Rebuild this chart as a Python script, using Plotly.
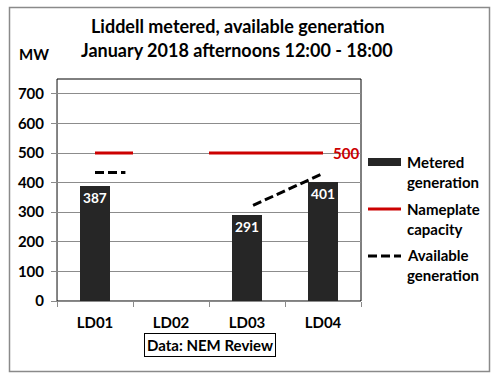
import plotly.graph_objects as go

# ---- data ----
units = ["LD01", "LD02", "LD03", "LD04"]
metered = [387, None, 291, 401]
nameplate_x = [0, 0.5, None, 1.5, 3.0]
nameplate_y = [500, 500, None, 500, 500]
available_x = [0, 0.4, None, 2.08, 3.0]
available_y = [434, 434, None, 323, 431]
y_ticks = [0, 100, 200, 300, 400, 500, 600, 700]

FONT = "Lato"
W, H = 496, 379
L, R, T, B = 57, 361, 79, 301  # plot area in px


def px(x):
    return (x - L) / (R - L)


def py(y):
    return (B - y) / (B - T)


fig = go.Figure()
fig.add_trace(go.Bar(
    x=list(range(len(units))), y=metered, width=0.39,
    marker=dict(color="#262626", line=dict(width=0)),
    text=[str(v) if v is not None else "" for v in metered],
    textposition="inside", insidetextanchor="end", textangle=0,
    textfont=dict(color="white", size=15, family=FONT, weight="bold"),
    showlegend=False, cliponaxis=False,
))
fig.add_trace(go.Scatter(
    x=nameplate_x, y=nameplate_y, mode="lines",
    line=dict(color="#cc0000", width=3), connectgaps=False, showlegend=False,
))
fig.add_trace(go.Scatter(
    x=available_x, y=available_y, mode="lines",
    line=dict(color="black", width=3, dash="9px,4px"), connectgaps=False, showlegend=False,
))

shapes = [
    # plot area box
    dict(type="rect", xref="paper", yref="paper", x0=0, x1=1, y0=0, y1=1,
         line=dict(color="black", width=1), layer="below"),
    # outer border
    dict(type="rect", xref="paper", yref="paper", x0=px(9.5), x1=px(489.5), y0=py(7.5), y1=py(371.5),
         line=dict(color="#8a8a8a", width=1.5)),
    # legend symbols
    dict(type="rect", xref="paper", yref="paper", x0=px(368), x1=px(401), y0=py(158), y1=py(166),
         line=dict(width=0), fillcolor="#262626"),
    dict(type="line", xref="paper", yref="paper", x0=px(368), x1=px(401), y0=py(209), y1=py(209),
         line=dict(color="#cc0000", width=3)),
    dict(type="line", xref="paper", yref="paper", x0=px(368), x1=px(401), y0=py(256), y1=py(256),
         line=dict(color="black", width=3, dash="9px,4px")),
]

ann = []


def txt(text, x, y, size=15, color="black", xanchor="left", **kw):
    ann.append(dict(text=text, x=px(x), y=py(y), xref="paper", yref="paper",
                    xanchor=xanchor, yanchor="middle", showarrow=False,
                    font=dict(family=FONT, size=size, color=color, weight="bold"), **kw))


txt("Liddell metered, available generation", 238, 26, size=18, xanchor="center")
txt("January 2018 afternoons 12:00 - 18:00", 237, 50, size=18, xanchor="center")
txt("MW", 34, 54, size=15, xanchor="center")
txt("Metered", 405, 162)
txt("generation", 405, 182)
txt("Nameplate", 405, 209)
txt("capacity", 405, 229)
txt("Available", 405, 255)
txt("generation", 405, 275)
txt("Data: NEM Review", 210, 345, xanchor="center",
    bordercolor="black", borderwidth=1, borderpad=2)
# label at end of nameplate line
ann.append(dict(text="500", x=nameplate_x[-1], y=nameplate_y[-1], xref="x", yref="y",
                xanchor="left", yanchor="middle", xshift=8, showarrow=False,
                font=dict(family=FONT, size=15, color="#cc0000", weight="bold")))

fig.update_layout(
    width=W, height=H,
    margin=dict(l=L, r=W - R, t=T, b=H - B),
    paper_bgcolor="white", plot_bgcolor="white",
    shapes=shapes, annotations=ann,
    xaxis=dict(range=[-0.5, 3.5], tickvals=list(range(len(units))), ticktext=units,
               showgrid=False, zeroline=False, showline=True, linecolor="#8a8a8a", linewidth=1,
               ticks="", tickfont=dict(family=FONT, size=15, color="black", weight="bold"),
               ticklabelstandoff=8,
               minor=dict(ticks="outside", tick0=-0.5, dtick=1, ticklen=5, tickcolor="#8a8a8a",
                          showgrid=False),
               fixedrange=True),
    yaxis=dict(range=[0, 750], tickvals=y_ticks, showgrid=True, gridcolor="#8c8c8c", gridwidth=1,
               zeroline=False, showline=True, linecolor="#8a8a8a", linewidth=1,
               ticks="outside", ticklen=5, tickcolor="#8a8a8a", ticklabelstandoff=4,
               tickfont=dict(family=FONT, size=15, color="black", weight="bold"),
               fixedrange=True),
    bargap=0,
)

fig.write_html("out.html", config={"displayModeBar": False},
               post_script="document.body.style.margin='0';document.body.style.overflow='hidden';")
